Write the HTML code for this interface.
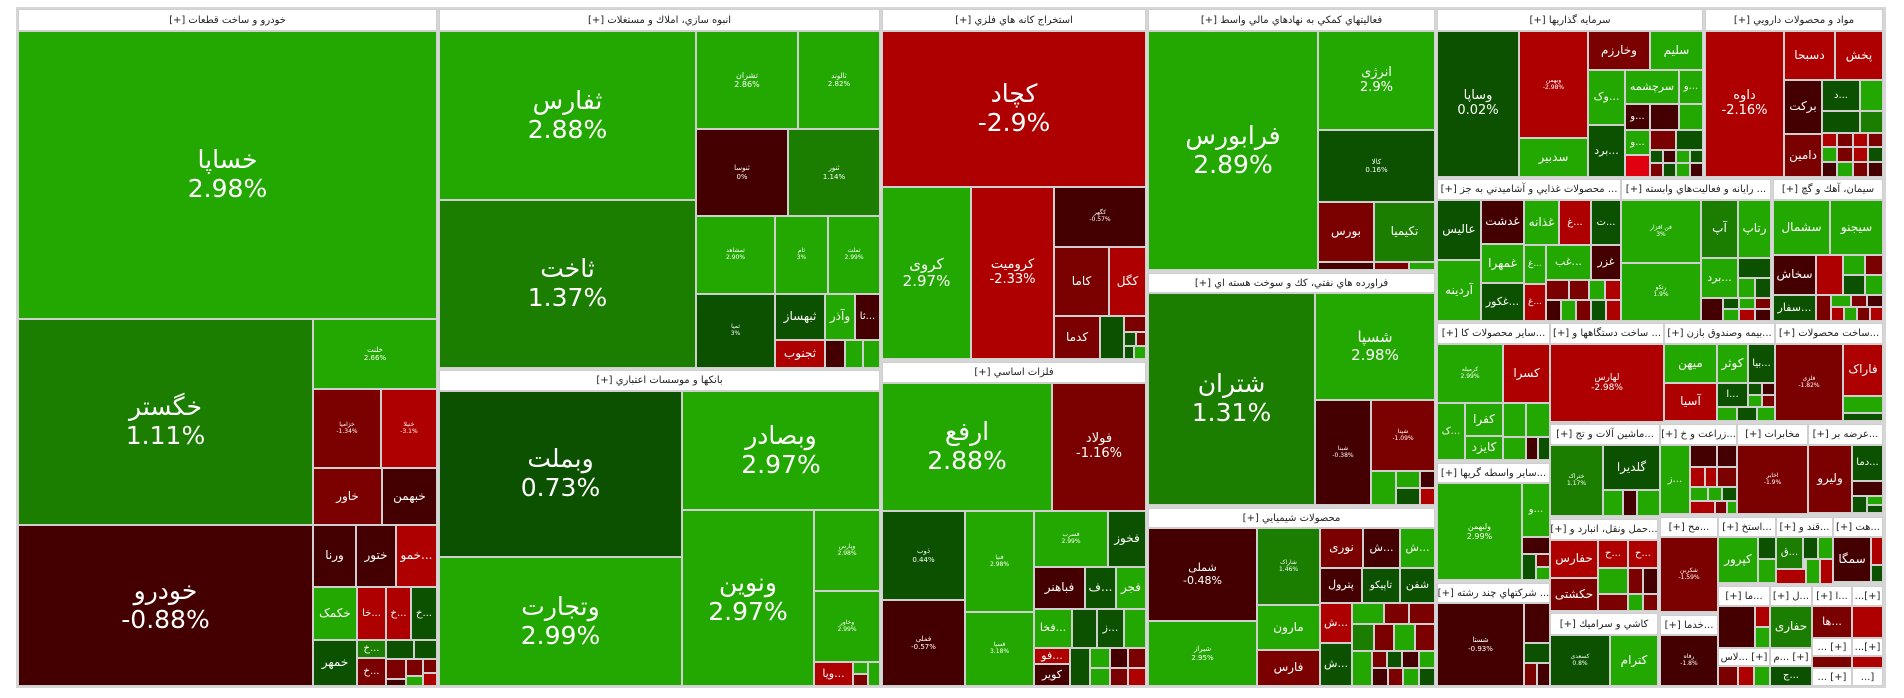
<!DOCTYPE html>
<html><head><meta charset="utf-8"><style>
body{margin:0;background:#fff;width:1904px;height:698px;overflow:hidden;position:relative;font-family:"DejaVu Sans","Liberation Sans",sans-serif}
#f{position:absolute;left:16px;top:7px;width:1870px;height:681px;background:#d6d6d6}
.c{position:absolute;box-sizing:border-box;border:1px solid #cfcfcf;color:#fff;display:flex;align-items:center;justify-content:center;text-align:center;overflow:hidden;line-height:1.15;white-space:nowrap;font-size:12px}
.h{position:absolute;box-sizing:border-box;border:1px solid #cfcfcf;background:#fff;color:#222;font-size:10px;display:flex;align-items:center;justify-content:center;direction:rtl;overflow:hidden;white-space:nowrap}
.g{background:#22a800}.m{background:#1b7e00}.d{background:#0b5100}.r{background:#ae0000}.k{background:#7b0000}.x{background:#440000}.b{background:#e00010}
.L{font-size:25px}.M{font-size:15px}.S{font-size:6px}
</style></head><body><div id="f"></div>
<!-- S1 -->
<div class="h" style="left:18px;top:9px;width:419px;height:22px">خودرو و ساخت قطعات [+]</div>
<div class="c g L" style="left:18px;top:31px;width:419px;height:288px">خساپا<br>2.98%</div>
<div class="c m L" style="left:18px;top:319px;width:295px;height:206px">خگستر<br>1.11%</div>
<div class="c x L" style="left:18px;top:525px;width:295px;height:161px">خودرو<br>-0.88%</div>
<div class="c g" style="left:313px;top:319px;width:124px;height:70px;font-size:7px">خلنت<br>2.66%</div>
<div class="c k S" style="left:313px;top:389px;width:68px;height:79px">خزامیا<br>-1.34%</div>
<div class="c r S" style="left:381px;top:389px;width:56px;height:79px">خنیلا<br>-3.1%</div>
<div class="c k" style="left:313px;top:468px;width:69px;height:57px">خاور</div>
<div class="c x" style="left:382px;top:468px;width:55px;height:57px">خبهمن</div>
<div class="c x" style="left:313px;top:525px;width:43px;height:62px">ورنا</div>
<div class="c x" style="left:356px;top:525px;width:40px;height:62px">ختور</div>
<div class="c r" style="left:396px;top:525px;width:41px;height:62px">خمو...</div>
<div class="c g" style="left:313px;top:587px;width:44px;height:53px">خکمک</div>
<div class="c r" style="left:357px;top:587px;width:29px;height:53px;font-size:10px">خا...</div>
<div class="c r" style="left:386px;top:587px;width:25px;height:53px;font-size:10px">خ...</div>
<div class="c d" style="left:411px;top:587px;width:26px;height:53px;font-size:10px">خ...</div>
<div class="c d" style="left:313px;top:640px;width:44px;height:46px">خمهر</div>
<div class="c m" style="left:357px;top:640px;width:29px;height:18px;font-size:10px">خ...</div>
<div class="c k" style="left:357px;top:658px;width:29px;height:28px;font-size:10px">خ...</div>
<div class="c d" style="left:386px;top:640px;width:28px;height:19px"></div>
<div class="c d" style="left:414px;top:640px;width:23px;height:19px"></div>
<div class="c k" style="left:386px;top:659px;width:20px;height:20px"></div>
<div class="c k" style="left:406px;top:659px;width:17px;height:17px"></div>
<div class="c k" style="left:423px;top:659px;width:14px;height:14px"></div>
<div class="c g" style="left:406px;top:676px;width:17px;height:10px"></div>
<div class="c x" style="left:386px;top:679px;width:20px;height:7px"></div>
<div class="c r" style="left:423px;top:673px;width:14px;height:13px"></div>
<!-- S2 -->
<div class="h" style="left:439px;top:9px;width:441px;height:22px">انبوه سازي، املاك و مستغلات [+]</div>
<div class="c g L" style="left:439px;top:31px;width:257px;height:169px">ثفارس<br>2.88%</div>
<div class="c m L" style="left:439px;top:200px;width:257px;height:168px">ثاخت<br>1.37%</div>
<div class="c g" style="left:696px;top:31px;width:102px;height:98px;font-size:8px">تشران<br>2.86%</div>
<div class="c g" style="left:798px;top:31px;width:82px;height:98px;font-size:7px">ثالوند<br>2.82%</div>
<div class="c x" style="left:696px;top:129px;width:92px;height:87px;font-size:7px">ثنوسا<br>0%</div>
<div class="c m" style="left:788px;top:129px;width:92px;height:87px;font-size:7px">ثنور<br>1.14%</div>
<div class="c g S" style="left:696px;top:216px;width:79px;height:78px">ثمشاهد<br>2.90%</div>
<div class="c g S" style="left:775px;top:216px;width:53px;height:78px">ثام<br>3%</div>
<div class="c g S" style="left:828px;top:216px;width:52px;height:78px">ثملت<br>2.99%</div>
<div class="c d S" style="left:696px;top:294px;width:79px;height:74px">ثمیا<br>3%</div>
<div class="c d" style="left:775px;top:294px;width:50px;height:46px">ثبهساز</div>
<div class="c g" style="left:825px;top:294px;width:30px;height:46px">وآذر</div>
<div class="c x" style="left:855px;top:294px;width:25px;height:46px;font-size:10px">ثا...</div>
<div class="c r" style="left:775px;top:340px;width:50px;height:28px">ثجنوب</div>
<div class="c x" style="left:825px;top:340px;width:20px;height:28px"></div>
<div class="c g" style="left:845px;top:340px;width:18px;height:28px"></div>
<div class="c g" style="left:863px;top:340px;width:17px;height:28px"></div>
<!-- S3 -->
<div class="h" style="left:439px;top:370px;width:441px;height:21px">بانکها و موسسات اعتباري [+]</div>
<div class="c d L" style="left:439px;top:391px;width:243px;height:166px">وبملت<br>0.73%</div>
<div class="c g L" style="left:439px;top:557px;width:243px;height:129px">وتجارت<br>2.99%</div>
<div class="c g L" style="left:682px;top:391px;width:198px;height:119px">وبصادر<br>2.97%</div>
<div class="c g L" style="left:682px;top:510px;width:132px;height:176px">ونوین<br>2.97%</div>
<div class="c g S" style="left:814px;top:510px;width:66px;height:81px">وپارس<br>2.98%</div>
<div class="c g S" style="left:814px;top:591px;width:66px;height:71px">وخاور<br>2.99%</div>
<div class="c r" style="left:814px;top:662px;width:39px;height:24px;font-size:11px">ویا...</div>
<div class="c g" style="left:853px;top:662px;width:15px;height:12px"></div>
<div class="c k" style="left:853px;top:674px;width:15px;height:12px"></div>
<div class="c g" style="left:868px;top:662px;width:12px;height:24px"></div>
<!-- S4 -->
<div class="h" style="left:882px;top:9px;width:264px;height:22px">استخراج كانه هاي فلزي [+]</div>
<div class="c r L" style="left:882px;top:31px;width:264px;height:156px">کچاد<br>-2.9%</div>
<div class="c g M" style="left:882px;top:187px;width:89px;height:172px">کروی<br>2.97%</div>
<div class="c r" style="left:971px;top:187px;width:83px;height:172px;font-size:13px">کرومیت<br>-2.33%</div>
<div class="c x S" style="left:1054px;top:187px;width:92px;height:60px">کگهر<br>-0.57%</div>
<div class="c k" style="left:1054px;top:247px;width:55px;height:69px">کاما</div>
<div class="c r" style="left:1109px;top:247px;width:37px;height:69px">کگل</div>
<div class="c k" style="left:1054px;top:316px;width:46px;height:43px">کدما</div>
<div class="c d" style="left:1100px;top:316px;width:24px;height:43px"></div>
<div class="c k" style="left:1124px;top:316px;width:22px;height:16px"></div>
<div class="c d" style="left:1124px;top:332px;width:12px;height:14px"></div>
<div class="c k" style="left:1136px;top:332px;width:10px;height:14px"></div>
<div class="c d" style="left:1124px;top:346px;width:10px;height:13px"></div>
<div class="c g" style="left:1134px;top:346px;width:12px;height:13px"></div>
<!-- S5 -->
<div class="h" style="left:882px;top:362px;width:264px;height:21px">فلزات اساسي [+]</div>
<div class="c g L" style="left:882px;top:383px;width:170px;height:128px">ارفع<br>2.88%</div>
<div class="c k" style="left:1052px;top:383px;width:94px;height:128px;font-size:13px">فولاد<br>-1.16%</div>
<div class="c d" style="left:882px;top:511px;width:83px;height:89px;font-size:7px">ذوب<br>0.44%</div>
<div class="c x" style="left:882px;top:600px;width:83px;height:86px;font-size:7px">فملی<br>-0.57%</div>
<div class="c g S" style="left:965px;top:511px;width:69px;height:101px">فنیا<br>2.98%</div>
<div class="c g S" style="left:965px;top:612px;width:69px;height:74px">فسپا<br>3.18%</div>
<div class="c g S" style="left:1034px;top:511px;width:74px;height:56px">فسرب<br>2.99%</div>
<div class="c d" style="left:1108px;top:511px;width:38px;height:56px">فخوز</div>
<div class="c x" style="left:1034px;top:567px;width:51px;height:42px">فباهنر</div>
<div class="c d" style="left:1085px;top:567px;width:31px;height:42px">ف...</div>
<div class="c g" style="left:1116px;top:567px;width:30px;height:42px">فجر</div>
<div class="c g" style="left:1034px;top:609px;width:38px;height:39px;font-size:11px">فخا...</div>
<div class="c d" style="left:1072px;top:609px;width:25px;height:39px"></div>
<div class="c d" style="left:1097px;top:609px;width:27px;height:39px;font-size:11px">ز...</div>
<div class="c g" style="left:1124px;top:609px;width:22px;height:39px"></div>
<div class="c r" style="left:1034px;top:648px;width:36px;height:16px;font-size:11px">فو...</div>
<div class="c x" style="left:1034px;top:664px;width:36px;height:22px;font-size:11px">کویر</div>
<div class="c d" style="left:1070px;top:648px;width:20px;height:38px"></div>
<div class="c g" style="left:1090px;top:648px;width:20px;height:20px"></div>
<div class="c x" style="left:1110px;top:648px;width:18px;height:20px"></div>
<div class="c k" style="left:1128px;top:648px;width:18px;height:20px"></div>
<div class="c g" style="left:1090px;top:668px;width:20px;height:18px"></div>
<div class="c k" style="left:1110px;top:668px;width:18px;height:18px"></div>
<div class="c r" style="left:1128px;top:668px;width:18px;height:18px"></div>
<!-- S6 -->
<div class="h" style="left:1148px;top:9px;width:287px;height:22px">فعاليتهاي كمكي به نهادهاي مالي واسط [+]</div>
<div class="c g L" style="left:1148px;top:31px;width:170px;height:239px">فرابورس<br>2.89%</div>
<div class="c g" style="left:1318px;top:31px;width:117px;height:99px;font-size:13px">انرژی<br>2.9%</div>
<div class="c d" style="left:1318px;top:130px;width:117px;height:72px;font-size:7px">کالا<br>0.16%</div>
<div class="c k" style="left:1318px;top:202px;width:56px;height:60px">بورس</div>
<div class="c m" style="left:1374px;top:202px;width:61px;height:60px">تکیمیا</div>
<div class="c x" style="left:1318px;top:262px;width:56px;height:8px"></div>
<div class="c k" style="left:1374px;top:262px;width:35px;height:8px"></div>
<div class="c g" style="left:1409px;top:262px;width:26px;height:8px"></div>
<!-- S7 -->
<div class="h" style="left:1148px;top:273px;width:287px;height:20px">فراورده هاي نفتي، كك و سوخت هسته اي [+]</div>
<div class="c m L" style="left:1148px;top:293px;width:167px;height:212px">شتران<br>1.31%</div>
<div class="c g M" style="left:1315px;top:293px;width:120px;height:107px">شسپا<br>2.98%</div>
<div class="c x S" style="left:1315px;top:400px;width:56px;height:105px">شبنا<br>-0.38%</div>
<div class="c k S" style="left:1371px;top:400px;width:64px;height:71px">شپنا<br>-1.09%</div>
<div class="c g" style="left:1371px;top:471px;width:25px;height:34px"></div>
<div class="c g" style="left:1396px;top:471px;width:24px;height:17px"></div>
<div class="c d" style="left:1396px;top:488px;width:24px;height:17px"></div>
<div class="c x" style="left:1420px;top:471px;width:15px;height:17px"></div>
<div class="c r" style="left:1420px;top:488px;width:15px;height:17px"></div>
<!-- S8 -->
<div class="h" style="left:1148px;top:508px;width:287px;height:20px">محصولات شيميايي [+]</div>
<div class="c x" style="left:1148px;top:528px;width:109px;height:93px;font-size:11px">شملی<br>-0.48%</div>
<div class="c g" style="left:1148px;top:621px;width:109px;height:65px;font-size:7px">شیراز<br>2.95%</div>
<div class="c m S" style="left:1257px;top:528px;width:63px;height:77px">شاراک<br>1.46%</div>
<div class="c g" style="left:1257px;top:605px;width:63px;height:45px">مارون</div>
<div class="c k" style="left:1257px;top:650px;width:63px;height:36px">فارس</div>
<div class="c k" style="left:1320px;top:528px;width:43px;height:40px">نوری</div>
<div class="c x" style="left:1363px;top:528px;width:37px;height:40px;font-size:11px">ش...</div>
<div class="c g" style="left:1400px;top:528px;width:35px;height:40px;font-size:11px">ش...</div>
<div class="c x" style="left:1320px;top:568px;width:42px;height:35px;font-size:11px">پترول</div>
<div class="c d" style="left:1362px;top:568px;width:38px;height:35px;font-size:10px">تاپیکو</div>
<div class="c d" style="left:1400px;top:568px;width:35px;height:35px;font-size:11px">شفن</div>
<div class="c r" style="left:1320px;top:603px;width:32px;height:40px;font-size:11px">ش...</div>
<div class="c d" style="left:1320px;top:643px;width:32px;height:43px;font-size:11px">ش...</div>
<div class="c g" style="left:1352px;top:603px;width:32px;height:21px"></div>
<div class="c k" style="left:1384px;top:603px;width:25px;height:21px"></div>
<div class="c k" style="left:1409px;top:603px;width:26px;height:21px"></div>
<div class="c m" style="left:1352px;top:624px;width:22px;height:27px"></div>
<div class="c k" style="left:1374px;top:624px;width:20px;height:27px"></div>
<div class="c g" style="left:1394px;top:624px;width:21px;height:27px"></div>
<div class="c k" style="left:1415px;top:624px;width:20px;height:27px"></div>
<div class="c g" style="left:1352px;top:651px;width:20px;height:35px"></div>
<div class="c k" style="left:1372px;top:651px;width:15px;height:17px"></div>
<div class="c d" style="left:1387px;top:651px;width:15px;height:17px"></div>
<div class="c x" style="left:1402px;top:651px;width:17px;height:17px"></div>
<div class="c g" style="left:1419px;top:651px;width:16px;height:17px"></div>
<div class="c x" style="left:1372px;top:668px;width:16px;height:18px"></div>
<div class="c k" style="left:1388px;top:668px;width:15px;height:18px"></div>
<div class="c g" style="left:1403px;top:668px;width:16px;height:18px"></div>
<div class="c d" style="left:1419px;top:668px;width:16px;height:18px"></div>
<!-- S9 -->
<div class="h" style="left:1437px;top:9px;width:266px;height:22px">سرمايه گذاريها [+]</div>
<div class="c d" style="left:1437px;top:31px;width:82px;height:146px;font-size:13px">وساپا<br>0.02%</div>
<div class="c r S" style="left:1519px;top:31px;width:69px;height:107px">وبهمن<br>-2.98%</div>
<div class="c g" style="left:1519px;top:138px;width:69px;height:39px">سدبیر</div>
<div class="c k" style="left:1588px;top:31px;width:62px;height:39px">وخارزم</div>
<div class="c g" style="left:1650px;top:31px;width:53px;height:39px">سلیم</div>
<div class="c g" style="left:1588px;top:70px;width:37px;height:55px;font-size:11px">وک...</div>
<div class="c g" style="left:1625px;top:70px;width:54px;height:34px;font-size:11px">سرچشمه</div>
<div class="c g" style="left:1679px;top:70px;width:24px;height:34px;font-size:10px">و...</div>
<div class="c d" style="left:1588px;top:125px;width:37px;height:52px;font-size:11px">برد...</div>
<div class="c x" style="left:1625px;top:104px;width:25px;height:26px;font-size:10px">و...</div>
<div class="c x" style="left:1650px;top:104px;width:29px;height:26px"></div>
<div class="c g" style="left:1679px;top:104px;width:24px;height:26px"></div>
<div class="c g" style="left:1625px;top:130px;width:25px;height:25px;font-size:10px">و...</div>
<div class="c b" style="left:1625px;top:155px;width:25px;height:22px"></div>
<div class="c k" style="left:1650px;top:130px;width:26px;height:20px"></div>
<div class="c d" style="left:1676px;top:130px;width:27px;height:20px"></div>
<div class="c d" style="left:1650px;top:150px;width:13px;height:13px"></div>
<div class="c x" style="left:1663px;top:150px;width:13px;height:13px"></div>
<div class="c g" style="left:1676px;top:150px;width:14px;height:13px"></div>
<div class="c d" style="left:1690px;top:150px;width:13px;height:13px"></div>
<div class="c k" style="left:1650px;top:163px;width:13px;height:14px"></div>
<div class="c d" style="left:1663px;top:163px;width:13px;height:14px"></div>
<div class="c g" style="left:1676px;top:163px;width:14px;height:14px"></div>
<div class="c x" style="left:1690px;top:163px;width:13px;height:14px"></div>
<!-- S10 -->
<div class="h" style="left:1705px;top:9px;width:178px;height:22px">مواد و محصولات دارويي [+]</div>
<div class="c r" style="left:1705px;top:31px;width:79px;height:146px;font-size:13px">داوه<br>-2.16%</div>
<div class="c r" style="left:1784px;top:31px;width:51px;height:49px">دسبحا</div>
<div class="c r" style="left:1835px;top:31px;width:48px;height:49px">پخش</div>
<div class="c x" style="left:1784px;top:80px;width:38px;height:54px">برکت</div>
<div class="c k" style="left:1784px;top:134px;width:38px;height:43px">دامین</div>
<div class="c d" style="left:1822px;top:80px;width:38px;height:31px;font-size:10px">د...</div>
<div class="c g" style="left:1860px;top:80px;width:23px;height:31px"></div>
<div class="c d" style="left:1822px;top:111px;width:38px;height:22px"></div>
<div class="c m" style="left:1860px;top:111px;width:23px;height:22px"></div>
<div class="c r" style="left:1822px;top:133px;width:15px;height:14px"></div>
<div class="c k" style="left:1837px;top:133px;width:16px;height:14px"></div>
<div class="c r" style="left:1853px;top:133px;width:15px;height:14px"></div>
<div class="c k" style="left:1868px;top:133px;width:15px;height:14px"></div>
<div class="c g" style="left:1822px;top:147px;width:15px;height:15px"></div>
<div class="c k" style="left:1837px;top:147px;width:16px;height:15px"></div>
<div class="c r" style="left:1853px;top:147px;width:15px;height:15px"></div>
<div class="c d" style="left:1868px;top:147px;width:15px;height:15px"></div>
<div class="c x" style="left:1822px;top:162px;width:15px;height:15px"></div>
<div class="c g" style="left:1837px;top:162px;width:16px;height:15px"></div>
<div class="c k" style="left:1853px;top:162px;width:15px;height:15px"></div>
<div class="c x" style="left:1868px;top:162px;width:15px;height:15px"></div>
<!-- Row 2 -->
<div class="h" style="left:1437px;top:179px;width:184px;height:21px">... محصولات غذايي و آشاميدني به جز [+]</div>
<div class="h" style="left:1621px;top:179px;width:150px;height:21px">... رايانه و فعاليت‌هاي وابسته [+]</div>
<div class="h" style="left:1773px;top:179px;width:110px;height:21px">سيمان، آهك و گچ [+]</div>
<div class="c d" style="left:1437px;top:200px;width:44px;height:60px">عالیس</div>
<div class="c g" style="left:1437px;top:260px;width:44px;height:61px">آردینه</div>
<div class="c x" style="left:1481px;top:200px;width:43px;height:44px">غدشت</div>
<div class="c g" style="left:1481px;top:244px;width:43px;height:39px">غمهرا</div>
<div class="c d" style="left:1481px;top:283px;width:43px;height:38px;font-size:11px">غکور...</div>
<div class="c g" style="left:1524px;top:200px;width:35px;height:45px">غذانه</div>
<div class="c r" style="left:1559px;top:200px;width:32px;height:45px;font-size:10px">غ...</div>
<div class="c d" style="left:1591px;top:200px;width:30px;height:45px;font-size:10px">ت...</div>
<div class="c g" style="left:1524px;top:245px;width:22px;height:39px;font-size:9px">غ...</div>
<div class="c g" style="left:1546px;top:245px;width:45px;height:35px;font-size:11px">غب...</div>
<div class="c x" style="left:1591px;top:245px;width:30px;height:35px;font-size:11px">غزر</div>
<div class="c r" style="left:1524px;top:284px;width:22px;height:37px;font-size:9px">غ...</div>
<div class="c k" style="left:1546px;top:280px;width:23px;height:20px"></div>
<div class="c k" style="left:1569px;top:280px;width:20px;height:20px"></div>
<div class="c g" style="left:1589px;top:280px;width:16px;height:20px"></div>
<div class="c r" style="left:1605px;top:280px;width:16px;height:20px"></div>
<div class="c x" style="left:1546px;top:300px;width:15px;height:21px"></div>
<div class="c g" style="left:1561px;top:300px;width:15px;height:21px"></div>
<div class="c k" style="left:1576px;top:300px;width:15px;height:21px"></div>
<div class="c d" style="left:1591px;top:300px;width:15px;height:21px"></div>
<div class="c r" style="left:1606px;top:300px;width:15px;height:21px"></div>
<div class="c g S" style="left:1621px;top:200px;width:80px;height:63px">فن افزار<br>3%</div>
<div class="c g S" style="left:1621px;top:263px;width:80px;height:58px">رتکو<br>1.9%</div>
<div class="c m" style="left:1701px;top:200px;width:37px;height:58px">آپ</div>
<div class="c g" style="left:1738px;top:200px;width:33px;height:58px">رتاپ</div>
<div class="c g" style="left:1701px;top:258px;width:37px;height:40px;font-size:11px">برد...</div>
<div class="c d" style="left:1738px;top:258px;width:33px;height:20px"></div>
<div class="c g" style="left:1738px;top:278px;width:17px;height:20px"></div>
<div class="c d" style="left:1755px;top:278px;width:16px;height:20px"></div>
<div class="c x" style="left:1701px;top:298px;width:22px;height:23px"></div>
<div class="c d" style="left:1723px;top:298px;width:16px;height:11px"></div>
<div class="c g" style="left:1739px;top:298px;width:16px;height:11px"></div>
<div class="c k" style="left:1755px;top:298px;width:16px;height:11px"></div>
<div class="c g" style="left:1723px;top:309px;width:16px;height:12px"></div>
<div class="c r" style="left:1739px;top:309px;width:16px;height:12px"></div>
<div class="c x" style="left:1755px;top:309px;width:16px;height:12px"></div>
<div class="c g" style="left:1773px;top:200px;width:57px;height:55px">سشمال</div>
<div class="c g" style="left:1830px;top:200px;width:53px;height:55px">سیجنو</div>
<div class="c x" style="left:1773px;top:255px;width:43px;height:40px">سخاش</div>
<div class="c d" style="left:1773px;top:295px;width:43px;height:26px;font-size:11px">سفار...</div>
<div class="c r" style="left:1816px;top:255px;width:27px;height:40px"></div>
<div class="c g" style="left:1843px;top:255px;width:22px;height:20px"></div>
<div class="c k" style="left:1865px;top:255px;width:18px;height:20px"></div>
<div class="c d" style="left:1843px;top:275px;width:22px;height:20px"></div>
<div class="c g" style="left:1865px;top:275px;width:18px;height:20px"></div>
<div class="c k" style="left:1816px;top:295px;width:15px;height:26px"></div>
<div class="c g" style="left:1831px;top:295px;width:20px;height:12px"></div>
<div class="c k" style="left:1851px;top:295px;width:16px;height:12px"></div>
<div class="c x" style="left:1867px;top:295px;width:16px;height:12px"></div>
<div class="c r" style="left:1831px;top:307px;width:13px;height:14px"></div>
<div class="c g" style="left:1844px;top:307px;width:13px;height:14px"></div>
<div class="c k" style="left:1857px;top:307px;width:13px;height:14px"></div>
<div class="c r" style="left:1870px;top:307px;width:13px;height:14px"></div>
<!-- Row 3 -->
<div class="h" style="left:1437px;top:323px;width:113px;height:21px">...ساير محصولات كا [+]</div>
<div class="h" style="left:1550px;top:323px;width:114px;height:21px">... ساخت دستگاهها و [+]</div>
<div class="h" style="left:1664px;top:323px;width:111px;height:21px">...بيمه وصندوق بازن [+]</div>
<div class="h" style="left:1775px;top:323px;width:108px;height:21px">...ساخت محصولات [+]</div>
<div class="c g S" style="left:1437px;top:344px;width:66px;height:59px">کرمیله<br>2.99%</div>
<div class="c r" style="left:1503px;top:344px;width:47px;height:59px">کسرا</div>
<div class="c g" style="left:1437px;top:403px;width:28px;height:57px;font-size:10px">ک...</div>
<div class="c g" style="left:1465px;top:403px;width:38px;height:33px">کفرا</div>
<div class="c g" style="left:1465px;top:436px;width:38px;height:24px">کایزد</div>
<div class="c g" style="left:1503px;top:403px;width:23px;height:34px"></div>
<div class="c g" style="left:1526px;top:403px;width:24px;height:34px"></div>
<div class="c g" style="left:1503px;top:437px;width:23px;height:23px"></div>
<div class="c x" style="left:1526px;top:437px;width:12px;height:23px"></div>
<div class="c d" style="left:1538px;top:437px;width:12px;height:23px"></div>
<div class="c r" style="left:1550px;top:344px;width:114px;height:78px;font-size:9px">لهارس<br>-2.98%</div>
<div class="c k" style="left:1550px;top:422px;width:38px;height:0px"></div>
<div class="c g" style="left:1664px;top:344px;width:53px;height:39px">میهن</div>
<div class="c r" style="left:1664px;top:383px;width:53px;height:38px">آسیا</div>
<div class="c g" style="left:1717px;top:344px;width:31px;height:39px">کوثر</div>
<div class="c d" style="left:1748px;top:344px;width:27px;height:39px;font-size:10px">بیا...</div>
<div class="c d" style="left:1717px;top:383px;width:31px;height:24px;font-size:10px">ا...</div>
<div class="c d" style="left:1748px;top:383px;width:14px;height:12px"></div>
<div class="c x" style="left:1762px;top:383px;width:13px;height:12px"></div>
<div class="c g" style="left:1748px;top:395px;width:14px;height:12px"></div>
<div class="c k" style="left:1762px;top:395px;width:13px;height:12px"></div>
<div class="c g" style="left:1717px;top:407px;width:20px;height:14px"></div>
<div class="c d" style="left:1737px;top:407px;width:20px;height:14px"></div>
<div class="c g" style="left:1757px;top:407px;width:18px;height:14px"></div>
<div class="c k S" style="left:1775px;top:344px;width:68px;height:77px">فلزی<br>-1.82%</div>
<div class="c r" style="left:1843px;top:344px;width:40px;height:52px">فاراک</div>
<div class="c g" style="left:1843px;top:396px;width:40px;height:17px"></div>
<div class="c d" style="left:1843px;top:413px;width:40px;height:8px"></div>
<!-- Left column lower -->
<div class="h" style="left:1437px;top:463px;width:113px;height:20px">...ساير واسطه گريها [+]</div>
<div class="c g" style="left:1437px;top:483px;width:85px;height:97px;font-size:8px">ولبهمن<br>2.99%</div>
<div class="c g" style="left:1522px;top:483px;width:28px;height:54px;font-size:10px">و...</div>
<div class="c x" style="left:1522px;top:537px;width:28px;height:17px"></div>
<div class="c d" style="left:1522px;top:554px;width:14px;height:26px"></div>
<div class="c k" style="left:1536px;top:554px;width:14px;height:13px"></div>
<div class="c g" style="left:1536px;top:567px;width:14px;height:13px"></div>
<div class="h" style="left:1437px;top:583px;width:113px;height:20px">... شركتهاي چند رشته [+]</div>
<div class="c x" style="left:1437px;top:603px;width:87px;height:83px;font-size:7px">شستا<br>-0.93%</div>
<div class="c x" style="left:1524px;top:603px;width:26px;height:40px"></div>
<div class="c d" style="left:1524px;top:643px;width:26px;height:20px"></div>
<div class="c k" style="left:1524px;top:663px;width:13px;height:23px"></div>
<div class="c x" style="left:1537px;top:663px;width:13px;height:23px"></div>
<!-- Row 4 -->
<div class="c k" style="left:1550px;top:422px;width:40px;height:0"></div>
<div class="h" style="left:1550px;top:424px;width:110px;height:21px">...ماشين آلات و تج [+]</div>
<div class="h" style="left:1660px;top:424px;width:77px;height:21px">...زراعت و خ [+]</div>
<div class="h" style="left:1737px;top:424px;width:71px;height:21px">مخابرات [+]</div>
<div class="h" style="left:1808px;top:424px;width:75px;height:21px">...عرضه بر [+]</div>
<div class="c m S" style="left:1550px;top:445px;width:53px;height:71px">ختراک<br>1.17%</div>
<div class="c d" style="left:1603px;top:445px;width:57px;height:45px">گلدیرا</div>
<div class="c g" style="left:1603px;top:490px;width:20px;height:26px"></div>
<div class="c x" style="left:1623px;top:490px;width:14px;height:26px"></div>
<div class="c g" style="left:1637px;top:490px;width:23px;height:26px"></div>
<div class="c g" style="left:1660px;top:445px;width:30px;height:69px;font-size:10px">ز...</div>
<div class="c x" style="left:1690px;top:445px;width:27px;height:22px"></div>
<div class="c x" style="left:1717px;top:445px;width:20px;height:22px"></div>
<div class="c r" style="left:1690px;top:467px;width:15px;height:20px"></div>
<div class="c r" style="left:1705px;top:467px;width:12px;height:20px"></div>
<div class="c k" style="left:1717px;top:467px;width:20px;height:20px"></div>
<div class="c g" style="left:1690px;top:487px;width:18px;height:14px"></div>
<div class="c g" style="left:1708px;top:487px;width:14px;height:14px"></div>
<div class="c d" style="left:1722px;top:487px;width:15px;height:14px"></div>
<div class="c r" style="left:1690px;top:501px;width:25px;height:13px"></div>
<div class="c k" style="left:1715px;top:501px;width:12px;height:13px"></div>
<div class="c g" style="left:1727px;top:501px;width:10px;height:13px"></div>
<div class="c k S" style="left:1737px;top:445px;width:71px;height:69px">اخابر<br>-1.9%</div>
<div class="c k" style="left:1808px;top:445px;width:44px;height:68px">ولیرو</div>
<div class="c d" style="left:1852px;top:445px;width:31px;height:36px;font-size:10px">دما...</div>
<div class="c x" style="left:1852px;top:481px;width:31px;height:15px"></div>
<div class="c d" style="left:1852px;top:496px;width:15px;height:17px"></div>
<div class="c g" style="left:1867px;top:496px;width:16px;height:9px"></div>
<div class="c d" style="left:1867px;top:505px;width:16px;height:8px"></div>
<!-- Row 5 -->
<div class="h" style="left:1550px;top:519px;width:108px;height:21px">...حمل ونقل، انبارد و [+]</div>
<div class="c r" style="left:1550px;top:540px;width:48px;height:38px">حفارس</div>
<div class="c k" style="left:1550px;top:578px;width:48px;height:33px">حکشتی</div>
<div class="c r" style="left:1598px;top:540px;width:30px;height:28px;font-size:10px">ح...</div>
<div class="c r" style="left:1628px;top:540px;width:30px;height:28px;font-size:10px">ح...</div>
<div class="c g" style="left:1598px;top:568px;width:30px;height:26px"></div>
<div class="c k" style="left:1628px;top:568px;width:15px;height:26px"></div>
<div class="c x" style="left:1643px;top:568px;width:15px;height:26px"></div>
<div class="c k" style="left:1598px;top:594px;width:30px;height:17px"></div>
<div class="c g" style="left:1628px;top:594px;width:15px;height:17px"></div>
<div class="c k" style="left:1643px;top:594px;width:15px;height:17px"></div>
<div class="h" style="left:1550px;top:613px;width:108px;height:22px">كاشي و سراميك [+]</div>
<div class="c d S" style="left:1550px;top:635px;width:60px;height:51px">کسعدی<br>0.8%</div>
<div class="c g" style="left:1610px;top:635px;width:48px;height:51px">کترام</div>
<div class="h" style="left:1660px;top:517px;width:58px;height:20px">...مح [+]</div>
<div class="h" style="left:1718px;top:517px;width:58px;height:20px">...استخ [+]</div>
<div class="h" style="left:1776px;top:517px;width:57px;height:20px">...قند و [+]</div>
<div class="h" style="left:1833px;top:517px;width:50px;height:20px">...هت [+]</div>
<div class="c k S" style="left:1660px;top:537px;width:58px;height:75px">شکربن<br>-1.59%</div>
<div class="c g" style="left:1718px;top:537px;width:40px;height:46px">کپرور</div>
<div class="c d" style="left:1758px;top:537px;width:18px;height:22px"></div>
<div class="c g" style="left:1758px;top:559px;width:18px;height:24px"></div>
<div class="c m" style="left:1776px;top:537px;width:27px;height:32px;font-size:10px">ق...</div>
<div class="c d" style="left:1803px;top:537px;width:15px;height:22px"></div>
<div class="c g" style="left:1818px;top:537px;width:15px;height:22px"></div>
<div class="c r" style="left:1776px;top:569px;width:30px;height:15px"></div>
<div class="c g" style="left:1806px;top:559px;width:14px;height:25px"></div>
<div class="c r" style="left:1820px;top:559px;width:13px;height:25px"></div>
<div class="c x" style="left:1833px;top:537px;width:38px;height:45px">سمگا</div>
<div class="c r" style="left:1871px;top:537px;width:12px;height:28px"></div>
<div class="c d" style="left:1871px;top:565px;width:12px;height:17px"></div>
<!-- Row 6/7 -->
<div class="h" style="left:1660px;top:615px;width:58px;height:20px">...خدما [+]</div>
<div class="c x S" style="left:1660px;top:635px;width:58px;height:51px">رفاه<br>-1.8%</div>
<div class="h" style="left:1718px;top:586px;width:52px;height:20px">...ما [+]</div>
<div class="h" style="left:1770px;top:586px;width:42px;height:20px">...ل [+]</div>
<div class="h" style="left:1812px;top:586px;width:40px;height:20px">...ا [+]</div>
<div class="h" style="left:1852px;top:586px;width:31px;height:20px">[+]...</div>
<div class="c x" style="left:1718px;top:606px;width:37px;height:42px"></div>
<div class="c r" style="left:1755px;top:606px;width:15px;height:21px"></div>
<div class="c g" style="left:1755px;top:627px;width:15px;height:21px"></div>
<div class="c m" style="left:1770px;top:606px;width:42px;height:42px">حفاری</div>
<div class="c k" style="left:1812px;top:606px;width:40px;height:32px;font-size:11px">ها...</div>
<div class="c r" style="left:1852px;top:606px;width:31px;height:32px"></div>
<div class="h" style="left:1718px;top:648px;width:52px;height:18px">[+] ...لاس</div>
<div class="h" style="left:1770px;top:648px;width:42px;height:18px">[+] ...م</div>
<div class="h" style="left:1812px;top:638px;width:40px;height:18px">[+] ...</div>
<div class="h" style="left:1852px;top:638px;width:31px;height:18px">[+]...</div>
<div class="c k" style="left:1718px;top:666px;width:20px;height:20px"></div>
<div class="c r" style="left:1738px;top:666px;width:16px;height:20px"></div>
<div class="c g" style="left:1754px;top:666px;width:16px;height:20px"></div>
<div class="c d" style="left:1770px;top:666px;width:42px;height:20px;font-size:10px">ج...</div>
<div class="c k" style="left:1812px;top:656px;width:40px;height:12px"></div>
<div class="c r" style="left:1852px;top:656px;width:31px;height:12px"></div>
<div class="h" style="left:1812px;top:668px;width:40px;height:18px">[+] ...</div>
<div class="h" style="left:1852px;top:668px;width:31px;height:18px">[...</div>
</body></html>
